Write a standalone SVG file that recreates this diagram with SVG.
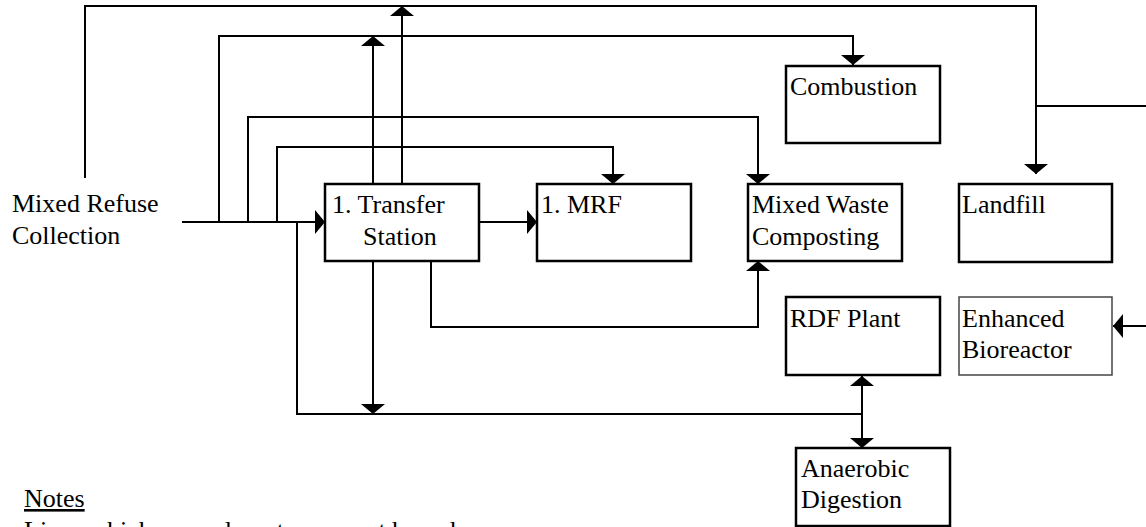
<svg xmlns="http://www.w3.org/2000/svg" width="1146" height="527" viewBox="0 0 1146 527">
<defs>
<marker id="arr" viewBox="0 0 10 24" refX="10" refY="12" markerWidth="10" markerHeight="24" markerUnits="userSpaceOnUse" orient="auto-start-reverse">
<path d="M0,0 L10,12 L0,24 z" fill="#000"/>
</marker>
<style>
.box{fill:#fff;stroke:#000;stroke-width:2.5}
.thin{fill:#fff;stroke:#444;stroke-width:1.5}
.ln{fill:none;stroke:#000;stroke-width:2}
text{font-family:'Liberation Serif','DejaVu Serif','Times New Roman',serif;font-size:26px;fill:#000}
</style>
</defs>
<rect width="1146" height="527" fill="#fff"/>
<g id="connectors">
<path class="ln" d="M85,178 V6 H1036 V174" marker-end="url(#arr)"/>
<path class="ln" d="M1036,106 H1146"/>
<path class="ln" d="M402,184 V6" marker-end="url(#arr)"/>
<path class="ln" d="M219,222 V36 H853 V65" marker-end="url(#arr)"/>
<path class="ln" d="M373,184 V36" marker-end="url(#arr)"/>
<path class="ln" d="M248,222 V117 H758 V184" marker-end="url(#arr)"/>
<path class="ln" d="M277,222 V147 H613 V184" marker-end="url(#arr)"/>
<path class="ln" d="M182,222 H325" marker-end="url(#arr)"/>
<path class="ln" d="M479,222 H537" marker-end="url(#arr)"/>
<path class="ln" d="M297,222 V414 H862"/>
<path class="ln" d="M373,261 V414" marker-end="url(#arr)"/>
<path class="ln" d="M431,261 V327 H758 V261" marker-end="url(#arr)"/>
<path class="ln" d="M862,376 V448" marker-start="url(#arr)" marker-end="url(#arr)"/>
<path class="ln" d="M1146,326 H1113" marker-end="url(#arr)"/>
</g>
<g id="source" font-family="Liberation Serif, serif">
<text x="12" y="212">Mixed Refuse</text>
<text x="12" y="244">Collection</text>
</g>
<g id="transfer">
<rect class="box" x="325" y="184" width="154" height="77"/>
<text x="332" y="213">1. Transfer</text>
<text x="363" y="245">Station</text>
</g>
<g id="mrf">
<rect class="box" x="537" y="184" width="154" height="77"/>
<text x="541" y="213">1. MRF</text>
</g>
<g id="mwc">
<rect class="box" x="748" y="184" width="154" height="77"/>
<text x="752" y="213">Mixed Waste</text>
<text x="752" y="245">Composting</text>
</g>
<g id="landfill">
<rect class="box" x="959" y="184" width="153" height="78"/>
<text x="962" y="213">Landfill</text>
</g>
<g id="combustion">
<rect class="box" x="786" y="66" width="154" height="77"/>
<text x="790" y="95">Combustion</text>
</g>
<g id="rdf">
<rect class="box" x="786" y="297" width="154" height="78"/>
<text x="790" y="327">RDF Plant</text>
</g>
<g id="bioreactor">
<rect class="thin" x="959" y="297" width="153" height="78"/>
<text x="962" y="327">Enhanced</text>
<text x="962" y="358">Bioreactor</text>
</g>
<g id="anaerobic">
<rect class="box" x="796" y="448" width="154" height="78"/>
<text x="801" y="477">Anaerobic</text>
<text x="801" y="508">Digestion</text>
</g>
<g id="notes">
<text x="24" y="507" text-decoration="underline">Notes</text>
<text x="24" y="539">Lines which cross do not represent branches.</text>
</g>
</svg>
